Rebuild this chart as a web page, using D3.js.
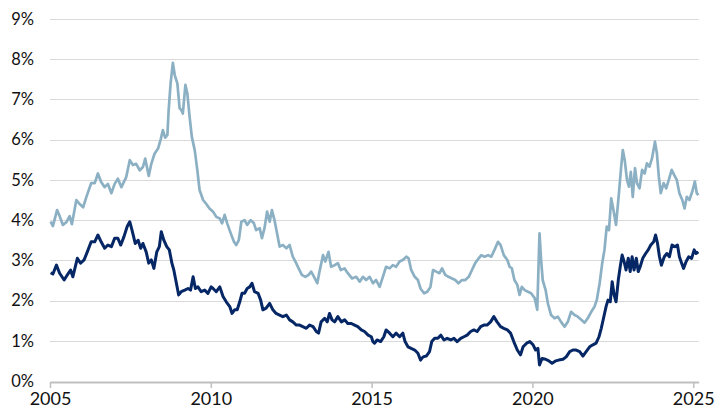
<!DOCTYPE html>
<html>
<head>
<meta charset="utf-8">
<script src="https://cdn.jsdelivr.net/npm/d3@7"></script>
<style>
  html, body { margin: 0; padding: 0; background: #fff; }
  svg { display: block; }
  text { font-family: Lato, "Open Sans", sans-serif; fill: #111; }
</style>
</head>
<body>
<svg id="chart" width="718" height="417"></svg>
<script>
// ---- Data (decimal year, percent) ----
const lightDates = [2005.02,2005.09,2005.22,2005.30,2005.40,2005.51,2005.61,2005.68,2005.82,2005.92,2006.03,2006.13,2006.28,2006.39,2006.49,2006.59,2006.70,2006.80,2006.91,2007.01,2007.11,2007.22,2007.37,2007.48,2007.58,2007.68,2007.79,2007.89,2007.96,2008.07,2008.15,2008.25,2008.36,2008.44,2008.51,2008.58,2008.65,2008.69,2008.75,2008.82,2008.88,2008.96,2009.03,2009.08,2009.13,2009.21,2009.27,2009.34,2009.41,2009.50,2009.58,2009.65,2009.76,2009.86,2009.96,2010.07,2010.17,2010.28,2010.35,2010.43,2010.51,2010.62,2010.72,2010.79,2010.87,2010.95,2011.05,2011.13,2011.24,2011.34,2011.41,2011.52,2011.59,2011.67,2011.75,2011.83,2011.90,2011.98,2012.07,2012.14,2012.24,2012.35,2012.45,2012.55,2012.63,2012.73,2012.83,2012.94,2013.04,2013.12,2013.21,2013.31,2013.38,2013.49,2013.56,2013.66,2013.74,2013.85,2013.95,2014.04,2014.16,2014.26,2014.39,2014.52,2014.63,2014.73,2014.83,2014.94,2015.04,2015.14,2015.25,2015.35,2015.45,2015.56,2015.66,2015.76,2015.87,2015.97,2016.08,2016.15,2016.23,2016.34,2016.44,2016.52,2016.63,2016.73,2016.83,2016.91,2017.01,2017.11,2017.19,2017.29,2017.39,2017.50,2017.60,2017.70,2017.81,2017.91,2018.02,2018.12,2018.22,2018.33,2018.41,2018.51,2018.62,2018.72,2018.82,2018.93,2019.01,2019.11,2019.22,2019.29,2019.36,2019.44,2019.53,2019.60,2019.67,2019.76,2019.86,2019.96,2020.07,2020.15,2020.22,2020.27,2020.32,2020.41,2020.48,2020.58,2020.69,2020.79,2020.89,2021.00,2021.10,2021.20,2021.31,2021.41,2021.52,2021.62,2021.72,2021.83,2021.93,2022.00,2022.09,2022.17,2022.24,2022.31,2022.38,2022.45,2022.52,2022.60,2022.69,2022.76,2022.81,2022.87,2022.94,2023.00,2023.06,2023.12,2023.19,2023.25,2023.33,2023.41,2023.49,2023.56,2023.64,2023.72,2023.81,2023.87,2023.93,2023.99,2024.08,2024.16,2024.24,2024.33,2024.41,2024.49,2024.57,2024.66,2024.73,2024.80,2024.88,2024.97,2025.05,2025.11,2025.16];
const lightValues = [3.96,3.85,4.25,4.10,3.88,3.95,4.10,3.90,4.50,4.40,4.32,4.57,4.92,4.92,5.16,4.95,4.82,4.90,4.67,4.90,5.03,4.82,5.07,5.49,5.37,5.40,5.24,5.32,5.53,5.10,5.40,5.65,5.78,6.00,6.24,6.05,6.12,6.74,7.40,7.91,7.60,7.40,6.78,6.74,6.65,7.36,7.15,6.57,6.07,5.74,5.25,4.75,4.50,4.40,4.29,4.21,4.08,4.04,3.92,4.13,3.92,3.67,3.46,3.38,3.50,3.96,4.00,3.88,4.00,3.92,3.75,3.80,3.55,3.80,4.21,3.96,4.25,4.00,3.63,3.34,3.38,3.30,3.38,3.09,2.97,2.80,2.64,2.59,2.64,2.72,2.59,2.43,2.72,3.13,2.97,3.21,2.84,2.88,2.93,2.76,2.80,2.68,2.55,2.59,2.47,2.59,2.51,2.59,2.43,2.51,2.34,2.59,2.84,2.80,2.88,2.84,2.97,3.01,3.09,3.05,2.76,2.59,2.51,2.30,2.18,2.22,2.34,2.76,2.72,2.68,2.80,2.64,2.59,2.55,2.51,2.43,2.51,2.51,2.59,2.76,2.93,3.05,3.13,3.09,3.13,3.09,3.26,3.46,3.38,3.13,3.01,2.84,2.80,2.51,2.39,2.14,2.34,2.26,2.22,2.18,2.06,1.77,3.67,3.01,2.51,2.26,1.93,1.64,1.56,1.60,1.47,1.35,1.47,1.72,1.64,1.60,1.52,1.45,1.56,1.72,1.85,2.01,2.43,2.93,3.26,3.84,3.75,4.54,4.25,3.88,4.67,5.33,5.74,5.49,5.00,4.83,5.20,4.58,5.29,4.92,4.79,5.25,5.16,5.41,5.33,5.54,5.95,5.66,5.08,4.67,4.92,4.79,5.00,5.25,5.12,5.00,4.67,4.50,4.29,4.58,4.50,4.71,4.96,4.67,4.62];

const darkDates = [2005.02,2005.09,2005.20,2005.30,2005.44,2005.54,2005.64,2005.71,2005.85,2005.95,2006.06,2006.16,2006.28,2006.39,2006.49,2006.59,2006.70,2006.80,2006.91,2007.01,2007.11,2007.20,2007.30,2007.40,2007.48,2007.55,2007.65,2007.74,2007.82,2007.89,2007.99,2008.07,2008.15,2008.23,2008.32,2008.40,2008.46,2008.54,2008.63,2008.71,2008.79,2008.85,2008.93,2009.00,2009.08,2009.19,2009.29,2009.37,2009.45,2009.52,2009.60,2009.70,2009.81,2009.91,2010.01,2010.07,2010.17,2010.28,2010.38,2010.48,2010.59,2010.66,2010.74,2010.82,2010.90,2010.97,2011.05,2011.13,2011.21,2011.28,2011.36,2011.47,2011.55,2011.62,2011.72,2011.83,2011.93,2012.03,2012.14,2012.24,2012.35,2012.45,2012.55,2012.66,2012.76,2012.86,2012.97,2013.07,2013.18,2013.28,2013.35,2013.43,2013.54,2013.62,2013.69,2013.77,2013.85,2013.95,2014.06,2014.16,2014.26,2014.37,2014.47,2014.57,2014.68,2014.78,2014.89,2014.99,2015.04,2015.09,2015.17,2015.28,2015.38,2015.45,2015.56,2015.66,2015.76,2015.87,2015.97,2016.04,2016.13,2016.23,2016.34,2016.44,2016.52,2016.60,2016.70,2016.80,2016.87,2016.96,2017.06,2017.15,2017.25,2017.35,2017.46,2017.56,2017.66,2017.77,2017.87,2017.97,2018.08,2018.18,2018.28,2018.39,2018.49,2018.59,2018.70,2018.80,2018.90,2019.01,2019.11,2019.22,2019.32,2019.42,2019.53,2019.63,2019.71,2019.82,2019.92,2020.02,2020.10,2020.17,2020.22,2020.30,2020.41,2020.51,2020.61,2020.72,2020.82,2020.95,2021.05,2021.16,2021.26,2021.36,2021.47,2021.57,2021.67,2021.78,2021.88,2021.98,2022.07,2022.14,2022.21,2022.29,2022.35,2022.42,2022.48,2022.54,2022.60,2022.67,2022.73,2022.79,2022.85,2022.91,2022.98,2023.04,2023.10,2023.16,2023.23,2023.29,2023.35,2023.43,2023.52,2023.60,2023.68,2023.77,2023.83,2023.89,2023.95,2024.01,2024.10,2024.18,2024.26,2024.34,2024.43,2024.51,2024.57,2024.64,2024.70,2024.78,2024.86,2024.95,2025.03,2025.09,2025.16];
const darkValues = [2.69,2.66,2.88,2.68,2.51,2.64,2.76,2.59,3.05,2.93,3.01,3.21,3.46,3.46,3.63,3.46,3.30,3.38,3.34,3.55,3.55,3.38,3.59,3.84,3.96,3.75,3.42,3.50,3.30,3.42,3.21,2.93,3.01,2.80,3.21,3.34,3.71,3.50,3.34,3.26,2.93,2.76,2.43,2.14,2.22,2.26,2.30,2.26,2.59,2.30,2.34,2.22,2.26,2.18,2.34,2.30,2.22,2.34,2.10,1.97,1.85,1.68,1.77,1.77,1.97,2.18,2.18,2.30,2.34,2.43,2.22,2.18,2.01,1.77,1.81,1.93,1.77,1.68,1.64,1.60,1.64,1.52,1.47,1.39,1.39,1.35,1.31,1.39,1.35,1.23,1.19,1.47,1.56,1.47,1.68,1.52,1.47,1.60,1.47,1.52,1.43,1.43,1.39,1.35,1.27,1.23,1.14,1.10,0.98,0.94,1.02,0.98,1.10,1.27,1.19,1.10,1.19,1.10,1.19,0.98,0.85,0.81,0.77,0.69,0.52,0.60,0.62,0.73,0.98,1.06,1.06,1.14,1.02,1.06,1.02,1.06,0.98,1.06,1.10,1.14,1.23,1.27,1.23,1.35,1.39,1.39,1.47,1.60,1.47,1.35,1.31,1.27,1.19,0.98,0.77,0.65,0.85,0.94,0.98,0.90,0.77,0.81,0.40,0.56,0.54,0.50,0.44,0.50,0.52,0.54,0.60,0.73,0.77,0.77,0.73,0.62,0.73,0.85,0.90,0.94,1.10,1.31,1.56,1.85,2.01,1.97,2.47,2.14,1.97,2.51,2.84,3.13,2.97,2.76,3.05,2.72,3.09,2.76,3.05,2.72,2.84,3.05,3.17,3.26,3.38,3.46,3.63,3.42,3.09,2.88,3.09,3.17,3.09,3.38,3.34,3.38,3.09,2.93,2.80,2.97,3.09,3.05,3.26,3.17,3.21];

const yTicks = [0,1,2,3,4,5,6,7,8,9];
const xTicks = [2005,2010,2015,2020,2025];

(function () {
  const svg = d3.select("#chart");
  const mLeft = 50, mRight = 698.7, mTop = 19, mBottom = 381;

  const x = d3.scaleLinear().domain([2005, 2025.17]).range([mLeft, mRight]);
  const y = d3.scaleLinear().domain([0, 9]).range([mBottom, mTop]);

  // gridlines
  svg.append("g").selectAll("line").data(yTicks.filter(d => d > 0)).join("line")
    .attr("x1", mLeft).attr("x2", mRight)
    .attr("y1", d => Math.round(y(d)) + 0.5).attr("y2", d => Math.round(y(d)) + 0.5)
    .attr("stroke", "#d9d9d9").attr("stroke-width", 1);

  // y labels
  const yAxis = d3.axisLeft(y).tickValues(yTicks).tickFormat(d => d + "%").tickSize(0).tickPadding(0);
  const gy = svg.append("g").attr("transform", "translate(34,0)").call(yAxis);
  gy.select(".domain").remove();
  gy.selectAll("text").style("font-size", "16.5px").style("font-family", "Lato, 'Open Sans', sans-serif").attr("fill", "#111");

  // x axis
  const xAxis = d3.axisBottom(x).tickValues(xTicks).tickFormat(d3.format("d")).tickSize(6).tickPadding(4).tickSizeOuter(0);
  const gx = svg.append("g").attr("transform", `translate(0,${mBottom + 1})`).call(xAxis);
  gx.select(".domain").attr("stroke", "#bfbfbf").attr("stroke-width", 2);
  gx.selectAll(".tick line").attr("stroke", "#bfbfbf").attr("stroke-width", 1.5);
  gx.selectAll("text").style("font-size", "18px").style("font-family", "Lato, 'Open Sans', sans-serif").attr("fill", "#111");

  // lines
  const line = d3.line().x(d => x(d[0])).y(d => y(d[1]));
  const lightSeries = lightDates.map((d, i) => [d, lightValues[i]]);
  const darkSeries = darkDates.map((d, i) => [d, darkValues[i]]);

  svg.append("path").datum(lightSeries)
    .attr("fill", "none").attr("stroke", "#8cb0c3").attr("stroke-width", 2.7)
    .attr("stroke-linejoin", "round").attr("d", line);
  svg.append("path").datum(darkSeries)
    .attr("fill", "none").attr("stroke", "#062766").attr("stroke-width", 3)
    .attr("stroke-linejoin", "round").attr("d", line);
})();
</script>
</body>
</html>
